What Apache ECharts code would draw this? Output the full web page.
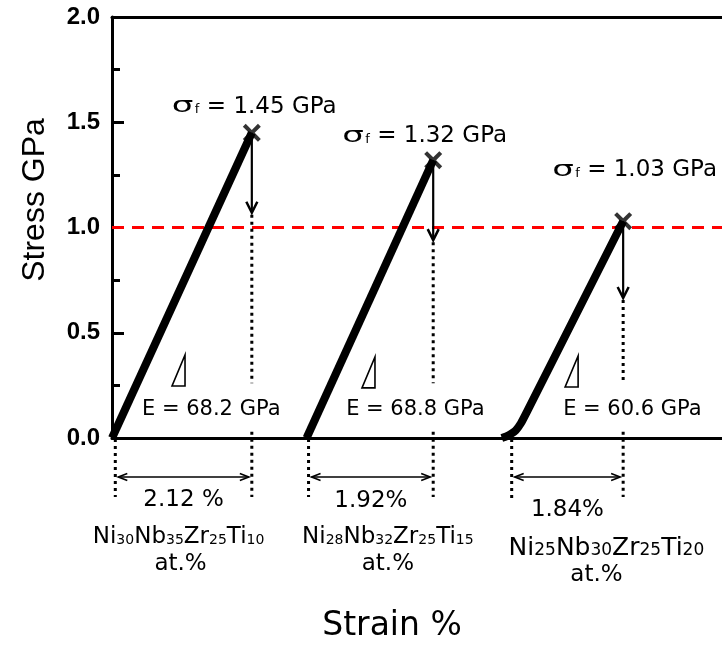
<!DOCTYPE html>
<html><head><meta charset="utf-8">
<script src="https://cdn.jsdelivr.net/npm/echarts@6/dist/echarts.min.js"></script>
<style>html,body{margin:0;padding:0;background:#fff}#c{width:722px;height:645px}</style>
</head><body><div id="c"></div>
<script>
// ---- data ----
const elements = ['Ni', 'Nb', 'Zr', 'Ti'];
const fractions = [[30, 35, 25, 10], [28, 32, 25, 15], [25, 30, 25, 20]];
const curve1 = [[0, 0], [2.12, 1.45]];
const curve2 = [[2.95, 0], [4.87, 1.32]];
const curve3 = [[5.91, 0], [5.98, 0.008], [6.05, 0.02], [6.12, 0.036], [6.2, 0.07], [6.3, 0.13], [7.75, 1.03]];
const fractureStrain = [2.12, 4.87, 7.75];
const fractureStress = [1.45, 1.32, 1.03];
const arrowTipStress = [1.07, 0.94, 0.665];
const spanStart = [0.05, 2.98, 6.06];
const elongationLabels = ['2.12 %', '1.92%', '1.84%'];
const modulusLabels = ['68.2', '68.8', '60.6'];
const strengthLabels = ['1.45', '1.32', '1.03'];
const yTicks = [0.0, 0.5, 1.0, 1.5, 2.0];
const refStress = 1.0;

// ---- layout (pixel offsets) ----
const sigmaOffset = [[-80, -26], [-91, -24], [-71, -51]];
const eLabelAt = [[0.455, 0.133], [3.55, 0.133], [6.84, 0.133]];
const triAt = [[0.91, 0.247], [3.79, 0.238], [6.87, 0.242]];
const pctY = [500, 501, 510];
const compDx = [-5, 17, 39];
const compY = [537, 537, 548];
const compFont = [[23, 14], [23, 14], [25, 17]];
const atDx = [-3, 17, 29];
const atY = [564, 564, 575];

const XMAX = 9.37;
const chart = echarts.init(document.getElementById('c'), null, {renderer: 'canvas'});
const black = '#000';
const xPath = 'path://M0,1.6L1.6,0L5,3.4L8.4,0L10,1.6L6.6,5L10,8.4L8.4,10L5,6.6L1.6,10L0,8.4L3.4,5Z';

chart.setOption({
  animation: false,
  backgroundColor: '#fff',
  grid: {left: 112, width: 618, top: 17, height: 421, outerBoundsMode: 'none', containLabel: false, show: false},
  xAxis: [
    {type: 'value', min: 0, max: XMAX, axisLine: {show: true, lineStyle: {color: black, width: 3}},
      axisTick: {show: false}, axisLabel: {show: false}, splitLine: {show: false}},
    {type: 'value', position: 'top', min: 0, max: XMAX, axisLine: {show: true, lineStyle: {color: black, width: 3}},
      axisTick: {show: false}, axisLabel: {show: false}, splitLine: {show: false}}
  ],
  yAxis: {type: 'value', min: yTicks[0], max: yTicks[yTicks.length - 1], interval: 0.5,
    axisLine: {show: true, lineStyle: {color: black, width: 3}},
    axisTick: {show: true, inside: true, length: 12, lineStyle: {color: black, width: 3}},
    minorTick: {show: true, splitNumber: 2, length: 8, lineStyle: {color: black, width: 3}},
    axisLabel: {color: black, fontFamily: 'Liberation Sans', fontSize: 24, fontWeight: 'bold', margin: 12, formatter: v => v.toFixed(1)},
    splitLine: {show: false}},
  series: [
    {type: 'line', data: [[0, refStress], [XMAX, refStress]], symbol: 'none', z: 1,
      lineStyle: {color: '#ff0000', width: 3, type: [12, 8]}},
    {type: 'line', data: curve1, symbol: 'none', z: 3, lineStyle: {color: black, width: 8}},
    {type: 'line', data: curve2, symbol: 'none', z: 3, lineStyle: {color: black, width: 8}},
    {type: 'line', data: curve3, symbol: 'none', z: 3, smooth: 0.25, lineStyle: {color: black, width: 8}},
    {type: 'scatter', data: fractureStrain.map((x, i) => [x, fractureStress[i]]), symbol: xPath, symbolSize: 18, z: 4,
      itemStyle: {color: black}}
  ]
});

const P = (x, y) => chart.convertToPixel({gridIndex: 0}, [x, y]);
const g = [];
const dotted = {stroke: black, lineWidth: 3, lineDash: [3, 4]};
function vline(x, y1, y2, style) {
  const a = P(x, y1), b = P(x, y2);
  g.push({type: 'line', shape: {x1: a[0], y1: a[1], x2: b[0], y2: b[1]}, style: style, z: 10});
}
function text(x, y, t, font, align, extra) {
  g.push(Object.assign({type: 'text', x: x, y: y, z: 20,
    style: {text: t, font: font, fill: black, align: align || 'center', verticalAlign: 'middle'}}, extra || {}));
}
const F = '"DejaVu Sans"';
for (let i = 0; i < 3; i++) {
  const fx = fractureStrain[i];
  const top = P(fx, fractureStress[i]), tip = P(fx, arrowTipStress[i]);
  g.push({type: 'line', shape: {x1: top[0], y1: top[1], x2: tip[0], y2: tip[1] - 1}, style: {stroke: black, lineWidth: 2.2}, z: 10});
  g.push({type: 'polyline', shape: {points: [[tip[0] - 5.5, tip[1] - 11], [tip[0], tip[1]], [tip[0] + 5.5, tip[1] - 11]]},
    style: {stroke: black, lineWidth: 2.5, fill: null}, z: 10});
  vline(fx, arrowTipStress[i] - 0.01, 0.26, dotted);
  vline(fx, 0.03, -0.28, dotted);
  vline(spanStart[i], -0.005, i === 2 ? -0.295 : -0.28, dotted);
  const a = P(spanStart[i], -0.185), b = P(fx, -0.185);
  const ax = a[0] + 3, bx = b[0] - 3, y = a[1];
  g.push({type: 'line', shape: {x1: ax, y1: y, x2: bx, y2: y}, style: {stroke: black, lineWidth: 1.6}, z: 10});
  g.push({type: 'polyline', shape: {points: [[ax + 9, y - 3.5], [ax, y], [ax + 9, y + 3.5]]}, style: {stroke: black, lineWidth: 1.6, fill: null}, z: 10});
  g.push({type: 'polyline', shape: {points: [[bx - 9, y - 3.5], [bx, y], [bx - 9, y + 3.5]]}, style: {stroke: black, lineWidth: 1.6, fill: null}, z: 10});
  const t0 = P(triAt[i][0], triAt[i][1]);
  g.push({type: 'polygon', shape: {points: [[t0[0], t0[1]], [t0[0] + 13, t0[1]], [t0[0] + 13, t0[1] - 31]]},
    style: {stroke: black, lineWidth: 1.6, fill: null}, z: 10});
  const e = P(eLabelAt[i][0], eLabelAt[i][1]);
  text(e[0], e[1], 'E = ' + modulusLabels[i] + ' GPa', '21px ' + F, 'left');
  const L = top[0] + sigmaOffset[i][0], Y = top[1] + sigmaOffset[i][1];
  text(L, Y, 'σ', '22px ' + F, 'left', {scaleX: 1.55});
  text(L + 23, Y + 3, 'f', '13px ' + F, 'left');
  text(L + 35, Y, '= ' + strengthLabels[i] + ' GPa', '23px ' + F, 'left');
  const cx = (a[0] + b[0]) / 2;
  text(cx, pctY[i], elongationLabels[i], '23px ' + F);
  let rich = '';
  elements.forEach((el, k) => { rich += '{m|' + el + '}{s|' + fractions[i][k] + '}'; });
  g.push({type: 'text', x: cx + compDx[i], y: compY[i], z: 20,
    style: {text: rich, align: 'center', verticalAlign: 'middle', fill: black,
      rich: {m: {font: compFont[i][0] + 'px ' + F, fill: black, verticalAlign: 'bottom'},
             s: {font: compFont[i][1] + 'px ' + F, fill: black, verticalAlign: 'bottom', padding: [0, 0, 1, 0]}}}});
  text(cx + atDx[i], atY[i], 'at.%', '23px ' + F);
}
text(35, 200, 'Stress GPa', '32px "Liberation Sans"', 'center', {rotation: Math.PI / 2});
text(392, 626, 'Strain %', '33px ' + F);
chart.setOption({graphic: g});
</script>
</body></html>
